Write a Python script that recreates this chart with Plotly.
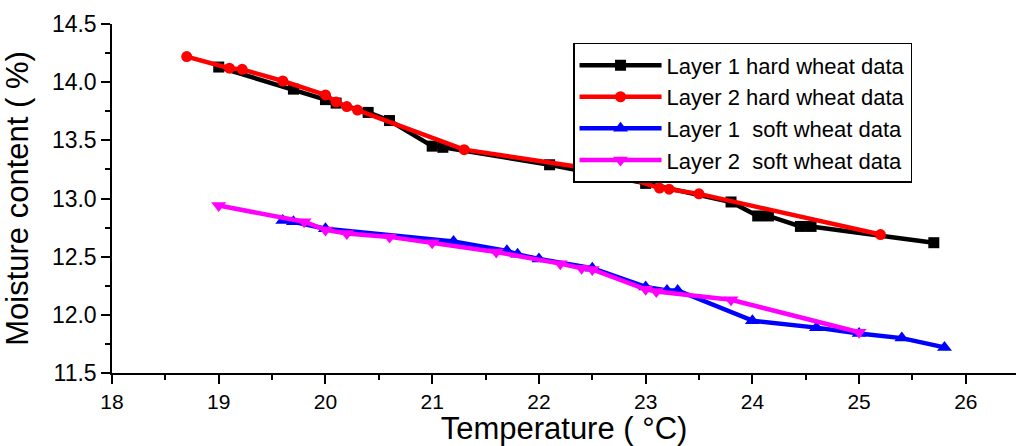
import plotly.graph_objects as go

# Layer 1 hard wheat
hard1_t = [19.0, 19.7, 20.0, 20.1, 20.4, 20.6, 21.0, 21.1, 22.1, 23.0, 23.8, 24.05, 24.15, 24.45, 24.55, 25.7]
hard1_m = [14.13, 13.94, 13.85, 13.82, 13.74, 13.67, 13.45, 13.44, 13.29, 13.13, 12.97, 12.85, 12.85, 12.76, 12.76, 12.62]

# Layer 2 hard wheat
hard2_t = [18.7, 19.1, 19.22, 19.6, 20.0, 20.1, 20.2, 20.3, 21.3, 22.75, 22.82, 23.13, 23.22, 23.5, 25.2]
hard2_m = [14.22, 14.12, 14.11, 14.01, 13.89, 13.83, 13.79, 13.76, 13.42, 13.22, 13.18, 13.09, 13.08, 13.04, 12.69]

# Layer 1 soft wheat
soft1_t = [19.6, 19.7, 20.0, 21.2, 21.7, 21.8, 22.0, 22.5, 23.0, 23.2, 23.3, 24.0, 24.6, 25.0, 25.4, 25.8]
soft1_m = [12.81, 12.80, 12.74, 12.63, 12.55, 12.52, 12.48, 12.40, 12.24, 12.21, 12.21, 11.95, 11.89, 11.84, 11.80, 11.72]

# Layer 2 soft wheat
soft2_t = [19.0, 19.8, 20.0, 20.2, 20.6, 21.0, 21.6, 22.2, 22.4, 22.5, 23.0, 23.1, 23.8, 25.0]
soft2_m = [12.94, 12.80, 12.73, 12.70, 12.67, 12.62, 12.54, 12.44, 12.40, 12.39, 12.22, 12.20, 12.13, 11.85]

series = [
    ("Layer 1 hard wheat data", hard1_t, hard1_m, "#000000", "square", 11),
    ("Layer 2 hard wheat data", hard2_t, hard2_m, "#ff0000", "circle", 11),
    ("Layer 1\u00a0 soft wheat data", soft1_t, soft1_m, "#0000ff", "triangle-up", 13),
    ("Layer 2\u00a0 soft wheat data", soft2_t, soft2_m, "#ff00ff", "triangle-down", 13),
]

fig = go.Figure()
for name, t, m, col, sym, sz in series:
    fig.add_trace(go.Scatter(
        x=t, y=m, name=name, mode="lines+markers",
        line=dict(color=col, width=4.5),
        marker=dict(color=col, symbol=sym, size=sz),
    ))

axis_font = dict(family="Liberation Sans, Arial", color="black")

fig.update_layout(
    width=1016, height=446,
    margin=dict(l=112, r=0, t=24, b=73),
    plot_bgcolor="white", paper_bgcolor="white",
    font=axis_font,
    showlegend=True,
    legend=dict(
        x=0.51, y=0.946, xanchor="left", yanchor="top",
        bgcolor="white", bordercolor="black", borderwidth=1.5,
        font=dict(size=22, family="Liberation Sans, Arial", color="black"),
        tracegroupgap=0, itemwidth=82,
    ),
)

fig.update_xaxes(
    range=[18, 26.47], dtick=1, tick0=18, automargin=False,
    ticks="outside", ticklen=9, tickwidth=1.5, tickcolor="black",
    minor=dict(dtick=0.5, ticks="outside", ticklen=5, tickwidth=1.5, tickcolor="black"),
    showline=True, linecolor="black", linewidth=1.5,
    showgrid=False, zeroline=False,
    tickfont=dict(size=21),
    title=dict(text="Temperature ( °C)", font=dict(size=31)),
)
fig.update_yaxes(
    range=[11.5, 14.5], dtick=0.5, tick0=11.5, tickformat=".1f", automargin=False,
    ticks="outside", ticklen=9, tickwidth=1.5, tickcolor="black",
    minor=dict(dtick=0.25, ticks="outside", ticklen=5, tickwidth=1.5, tickcolor="black"),
    showline=True, linecolor="black", linewidth=1.5,
    showgrid=False, zeroline=False,
    tickfont=dict(size=23),
    title=dict(text="Moisture content ( %)", font=dict(size=31)),
)

fig.write_html("out.html", config={"displayModeBar": False},
               post_script="document.body.style.margin='0';")
